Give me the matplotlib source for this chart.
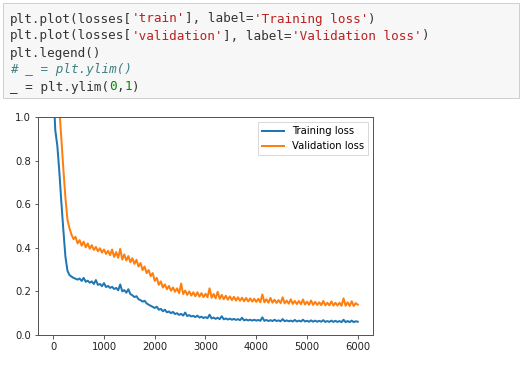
import matplotlib
matplotlib.use("Agg")
from matplotlib import pyplot as plt
from matplotlib.patches import FancyBboxPatch

# loss values, one every 40 steps
steps = list(range(0, 6001, 40))

train_loss = [
    1.15, 0.94, 0.87, 0.75, 0.61, 0.48, 0.36, 0.295, 0.275, 0.268,
    0.262, 0.258, 0.254, 0.259, 0.248, 0.262, 0.244, 0.249, 0.240, 0.246,
    0.234, 0.252, 0.230, 0.234, 0.224, 0.238, 0.220, 0.225, 0.216, 0.221,
    0.211, 0.216, 0.205, 0.232, 0.200, 0.206, 0.194, 0.210, 0.188, 0.182,
    0.174, 0.178, 0.164, 0.160, 0.153, 0.157, 0.145, 0.139, 0.134, 0.129,
    0.124, 0.130, 0.116, 0.120, 0.109, 0.116, 0.104, 0.108, 0.100, 0.106,
    0.096, 0.100, 0.092, 0.097, 0.089, 0.103, 0.087, 0.091, 0.085, 0.088,
    0.082, 0.089, 0.080, 0.084, 0.078, 0.082, 0.077, 0.093, 0.076, 0.080,
    0.074, 0.079, 0.073, 0.086, 0.072, 0.076, 0.071, 0.075, 0.070, 0.074,
    0.069, 0.073, 0.068, 0.079, 0.067, 0.071, 0.067, 0.070, 0.066, 0.070,
    0.066, 0.069, 0.065, 0.081, 0.065, 0.069, 0.064, 0.068, 0.064, 0.070,
    0.064, 0.067, 0.063, 0.073, 0.063, 0.067, 0.063, 0.066, 0.062, 0.069,
    0.062, 0.066, 0.062, 0.070, 0.062, 0.065, 0.061, 0.067, 0.061, 0.066,
    0.061, 0.065, 0.061, 0.068, 0.060, 0.064, 0.060, 0.066, 0.060, 0.065,
    0.060, 0.064, 0.059, 0.070, 0.059, 0.064, 0.059, 0.066, 0.059, 0.063,
    0.061,
]

valid_loss = [
    1.60, 1.40, 1.20, 1.04, 0.90, 0.76, 0.63, 0.53, 0.49, 0.46,
    0.440, 0.450, 0.420, 0.435, 0.410, 0.428, 0.402, 0.420, 0.396, 0.412,
    0.390, 0.404, 0.384, 0.398, 0.378, 0.392, 0.372, 0.386, 0.366, 0.392,
    0.358, 0.380, 0.354, 0.395, 0.346, 0.370, 0.342, 0.362, 0.334, 0.352,
    0.326, 0.345, 0.314, 0.330, 0.298, 0.314, 0.284, 0.298, 0.270, 0.284,
    0.248, 0.262, 0.230, 0.246, 0.218, 0.232, 0.210, 0.225, 0.203, 0.218,
    0.198, 0.214, 0.192, 0.236, 0.188, 0.204, 0.184, 0.200, 0.181, 0.196,
    0.178, 0.196, 0.176, 0.192, 0.174, 0.189, 0.173, 0.214, 0.171, 0.188,
    0.168, 0.198, 0.166, 0.184, 0.164, 0.180, 0.162, 0.177, 0.160, 0.175,
    0.158, 0.173, 0.157, 0.171, 0.155, 0.170, 0.154, 0.168, 0.153, 0.166,
    0.152, 0.166, 0.150, 0.186, 0.150, 0.164, 0.148, 0.170, 0.148, 0.162,
    0.147, 0.160, 0.146, 0.173, 0.145, 0.158, 0.144, 0.164, 0.143, 0.156,
    0.142, 0.156, 0.141, 0.163, 0.140, 0.153, 0.139, 0.158, 0.138, 0.152,
    0.138, 0.150, 0.137, 0.156, 0.136, 0.148, 0.136, 0.154, 0.135, 0.148,
    0.135, 0.148, 0.134, 0.168, 0.134, 0.150, 0.133, 0.155, 0.133, 0.146,
    0.139,
]

# notebook cell text, split into (text, colour, style) pieces per line
code_lines = [
    [("plt.plot(losses[", "#333333", "normal"), ("'train'", "#BA2121", "normal"),
     ("], label=", "#333333", "normal"), ("'Training loss'", "#BA2121", "normal"),
     (")", "#333333", "normal")],
    [("plt.plot(losses[", "#333333", "normal"), ("'validation'", "#BA2121", "normal"),
     ("], label=", "#333333", "normal"), ("'Validation loss'", "#BA2121", "normal"),
     (")", "#333333", "normal")],
    [("plt.legend()", "#333333", "normal")],
    [("# _ = plt.ylim()", "#408080", "italic")],
    [("_ = plt.ylim(", "#333333", "normal"), ("0", "#008800", "normal"),
     (",", "#333333", "normal"), ("1", "#008800", "normal"), (")", "#333333", "normal")],
]

W, H = 526, 367
fig = plt.figure(figsize=(W / 72, H / 72), dpi=72)

# code cell background
box = FancyBboxPatch((3 / W, 1 - 98 / H), 516 / W, 95 / H, boxstyle="square,pad=0",
                     transform=fig.transFigure, facecolor="#f7f7f7",
                     edgecolor="#cfcfcf", linewidth=1)
fig.patches.append(box)

char_w = 7.62
for i, parts in enumerate(code_lines):
    y = 1 - (19 + 17 * i) / H
    col = 0
    for txt, color, style in parts:
        fig.text((10 + col * char_w) / W, y, txt, family="DejaVu Sans Mono",
                 fontsize=12.6, color=color, style=style, va="center")
        col += len(txt)

ax = fig.add_axes([38 / W, 32 / H, 335 / W, 218 / H])
ax.plot(steps, train_loss, color="#1f77b4", lw=2, label="Training loss")
ax.plot(steps, valid_loss, color="#ff7f0e", lw=2, label="Validation loss")
ax.legend(fontsize=10, loc="upper right", fancybox=False, edgecolor="#d0d0d0",
          handlelength=2.2)
ax.set_ylim(0, 1)
ax.set_xlim(-300, 6300)
ax.set_xticks([0, 1000, 2000, 3000, 4000, 5000, 6000])
ax.set_yticks([0.0, 0.2, 0.4, 0.6, 0.8, 1.0])
ax.tick_params(labelsize=10, color="#333333", labelcolor="#222222")
for s in ax.spines.values():
    s.set_color("#555555")
    s.set_linewidth(1.0)

fig.savefig("out.png", dpi=72)
